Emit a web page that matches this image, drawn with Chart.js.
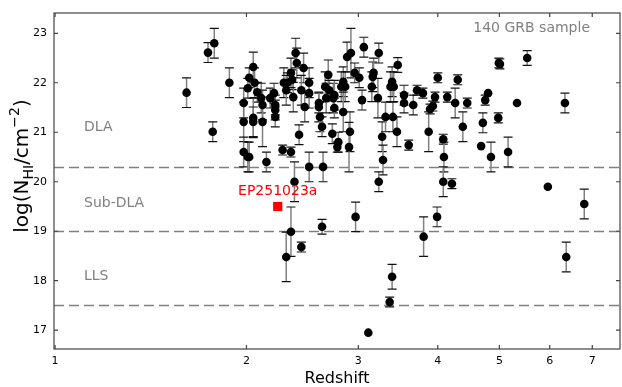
<!DOCTYPE html>
<html>
<head>
<meta charset="utf-8">
<script src="https://cdn.jsdelivr.net/npm/chart.js@4.4.1/dist/chart.umd.min.js"></script>
<style>
html, body { margin: 0; padding: 0; background: #fff; overflow: hidden; }
#wrap { width: 622px; height: 387px; position: relative; }
canvas { display: block; }
</style>
</head>
<body>
<div id="wrap"><canvas id="grb"></canvas></div>
<script>
// GRB host HI column densities vs redshift
const redshift = [
    1.61, 1.74, 1.78, 1.88, 1.77, 1.98, 1.98, 1.98, 2.01, 2.02,
    2.01, 2.02, 2.05, 2.06, 2.08, 2.11, 2.12, 2.05, 2.05, 2.12,
    2.15, 2.18, 2.21, 2.22, 2.22, 2.22, 2.28, 2.35, 2.29, 2.32,
    2.36, 2.31, 2.37, 2.35, 2.39, 2.40, 2.46, 2.51, 2.51, 2.44,
    2.47, 2.42, 2.38, 2.51, 2.35, 2.31, 2.44, 2.63, 2.60, 2.60,
    2.61, 2.63, 2.64, 2.66, 2.67, 2.69, 2.70, 2.74, 2.75, 2.75,
    2.73, 2.78, 2.79, 2.82, 2.84, 2.86, 2.84, 2.91, 2.90, 2.88,
    2.92, 2.96, 3.01, 3.06, 3.04, 2.97, 3.11, 3.15, 3.16, 3.17,
    3.22, 3.23, 3.27, 3.28, 3.23, 3.31, 3.37, 3.39, 3.41, 3.40,
    3.45, 3.46, 3.39, 3.36, 3.54, 3.54, 3.60, 3.66, 3.71, 3.79,
    3.80, 3.87, 3.89, 3.93, 3.96, 3.99, 4.00, 4.08, 4.09, 4.08,
    4.21, 4.14, 4.26, 4.30, 4.38, 4.45, 4.68, 4.71, 4.75, 4.80,
    4.85, 4.98, 4.99, 5.01, 5.16, 5.33, 5.53, 5.96, 6.34, 6.37, 6.80
]
const logNHI = [
    21.80, 22.61, 22.80, 22.00, 21.01, 21.59, 21.21, 20.60, 20.50, 20.50,
    21.89, 22.10, 22.32, 22.00, 21.81, 21.69, 21.55, 21.29, 21.21, 21.21,
    20.40, 21.69, 21.79, 21.55, 21.45, 21.31, 20.64, 20.60, 22.00, 22.00,
    22.06, 21.85, 21.71, 22.20, 22.60, 22.40, 22.30, 22.00, 21.79, 21.85,
    21.51, 20.95, 20.00, 20.30, 18.99, 18.48, 18.68, 19.09, 21.59, 21.51,
    21.31, 21.11, 20.30, 21.92, 21.69, 22.16, 21.85, 21.69, 21.75, 21.49,
    20.97, 20.70, 20.80, 21.92, 22.02, 21.92, 21.41, 21.01, 20.70, 22.52,
    22.60, 22.20, 22.10, 22.72, 21.65, 19.29, 16.95, 21.92, 22.12, 22.20,
    21.69, 22.60, 20.91, 20.44, 20.00, 21.31, 21.92, 22.02, 21.92, 21.31,
    21.01, 22.36, 18.08, 17.57, 21.75, 21.59, 20.74, 21.55, 21.85, 21.79,
    18.89, 21.01, 21.47, 21.53, 21.71, 19.29, 22.10, 20.86, 20.50, 20.00,
    19.96, 21.71, 21.59, 22.06, 21.11, 21.59, 20.72, 21.19, 21.65, 21.79,
    20.50, 21.29, 22.40, 22.38, 20.60, 21.59, 22.50, 19.90, 21.59, 18.48, 19.55
]
const logNHIErr = [
    0.3, 0.2, 0.3, 0.3, 0.2, 0.3, 0.4, 0.3, 0.3, 0.3,
    0.2, 0.2, 0.3, 0.3, 0.2, 0.3, 0.3, 0.4, 0.3, 0.5,
    0.2, 0.2, 0.2, 0.2, 0.2, 0.2, 0.1, 0.1, 0.3, 0.2,
    0.2, 0.3, 0.3, 0.3, 0.3, 0.3, 0.3, 0.3, 0.3, 0.3,
    0.3, 0.2, 0.4, 0.3, 0.5, 0.5, 0.1, 0.15, 0.2, 0.3,
    0.3, 0.2, 0.3, 0.3, 0.3, 0.3, 0.2, 0.3, 0.3, 0.2,
    0.2, 0.1, 0.2, 0.3, 0.3, 0.3, 0.4, 0.4, 0.5, 0.3,
    0.5, 0.2, 0.2, 0.2, 0.2, 0.3, 0, 0.3, 0.3, 0.3,
    0.4, 0.2, 0.3, 0.3, 0.2, 0.3, 0.3, 0.3, 0.3, 0.3,
    0.3, 0.15, 0.25, 0.1, 0.2, 0.2, 0.1, 0.2, 0.1, 0.1,
    0.4, 0.4, 0.1, 0.1, 0.1, 0.2, 0.1, 0.1, 0.3, 0.3,
    0.1, 0.1, 0.3, 0.1, 0.3, 0.1, 0, 0.2, 0.1, 0,
    0.3, 0.1, 0.1, 0.1, 0.3, 0, 0.15, 0, 0.2, 0.3, 0.3
]

const epName = 'EP251023a'
const epRedshift = [2.24]
const epLogNHI = [19.5]

const thresholds = [20.3, 19.0, 17.5]
const regionNames = ['DLA', 'Sub-DLA', 'LLS']
const xTicks = [1, 2, 3, 4, 5, 6, 7]
const yTicks = [17, 18, 19, 20, 21, 22, 23]
const sampleLabel = '140 GRB sample'

const FONT = '"DejaVu Sans", sans-serif'
const GREY = '#808080'

const decor = {
    id: 'decor',
    beforeDatasetsDraw(chart) {
        const {ctx, chartArea: a, scales: {x, y}} = chart
        ctx.save()
        // regime boundaries
        ctx.strokeStyle = GREY
        ctx.lineWidth = 1.5
        ctx.setLineDash([10, 5])
        thresholds.forEach(t => {
            const py = Math.round(y.getPixelForValue(t)) + 0.5
            ctx.beginPath()
            ctx.moveTo(a.left, py)
            ctx.lineTo(a.right, py)
            ctx.stroke()
        })
        ctx.setLineDash([])
        // error bars
        redshift.forEach((z, i) => {
            const e = logNHIErr[i]
            if (!e) return
            const px = x.getPixelForValue(z)
            const lo = y.getPixelForValue(logNHI[i] - e)
            const hi = y.getPixelForValue(logNHI[i] + e)
            ctx.strokeStyle = GREY
            ctx.lineWidth = 1.5
            ctx.beginPath()
            ctx.moveTo(px, lo)
            ctx.lineTo(px, hi)
            ctx.stroke()
            ctx.strokeStyle = '#111'
            ctx.lineWidth = 1.2
            ctx.beginPath()
            ctx.moveTo(px - 4.5, lo); ctx.lineTo(px + 4.5, lo)
            ctx.moveTo(px - 4.5, hi); ctx.lineTo(px + 4.5, hi)
            ctx.stroke()
        })
        ctx.restore()
    },
    afterDatasetsDraw(chart) {
        const {ctx, chartArea: a, scales: {x, y}} = chart
        ctx.save()
        // frame + inward ticks on all sides
        ctx.strokeStyle = '#444'
        ctx.lineWidth = 1.2
        ctx.strokeRect(a.left, a.top, a.right - a.left, a.bottom - a.top)
        ctx.beginPath()
        xTicks.forEach(v => {
            const px = x.getPixelForValue(v)
            ctx.moveTo(px, a.bottom); ctx.lineTo(px, a.bottom - 4)
            ctx.moveTo(px, a.top); ctx.lineTo(px, a.top + 4)
        })
        yTicks.forEach(v => {
            const py = y.getPixelForValue(v)
            ctx.moveTo(a.left, py); ctx.lineTo(a.left + 4, py)
            ctx.moveTo(a.right, py); ctx.lineTo(a.right - 4, py)
        })
        ctx.stroke()

        // annotations
        ctx.font = '14px ' + FONT
        ctx.fillStyle = GREY
        ctx.textBaseline = 'middle'
        ctx.textAlign = 'left'
        const regionY = [21.09, 19.57, 18.08]
        regionNames.forEach((n, i) => ctx.fillText(n, a.left + 30, y.getPixelForValue(regionY[i])))
        ctx.textAlign = 'right'
        ctx.fillText(sampleLabel, a.right - 30, y.getPixelForValue(23.1))
        ctx.fillStyle = '#ff0000'
        ctx.textAlign = 'center'
        ctx.fillText(epName, x.getPixelForValue(epRedshift[0]), y.getPixelForValue(epLogNHI[0]) - 15)

        // axis titles
        ctx.fillStyle = '#000'
        ctx.textAlign = 'center'
        ctx.textBaseline = 'alphabetic'
        ctx.font = '16px ' + FONT
        ctx.fillText('Redshift', (a.left + a.right) / 2, 383)
        drawYTitle(ctx, 28, 166)
        ctx.restore()
    }
}

// log(N_HI / cm^-2) with sub/superscripts, rotated
function drawYTitle(ctx, cx, cy)
{
    const big = '20px ' + FONT, small = '14px ' + FONT
    const parts = [
        ['log(N', big, 0], ['HI', small, 5], ['/cm', big, 0], ['\u22122', small, -9], [')', big, 0]
    ]
    ctx.save()
    ctx.translate(cx, cy)
    ctx.rotate(-Math.PI / 2)
    ctx.textAlign = 'left'
    let w = 0
    parts.forEach(p => { ctx.font = p[1]; w += ctx.measureText(p[0]).width })
    let px = -w / 2
    parts.forEach(p => {
        ctx.font = p[1]
        ctx.fillText(p[0], px, p[2])
        px += ctx.measureText(p[0]).width
    })
    ctx.restore()
}

new Chart(document.getElementById('grb'), {
    type: 'scatter',
    data: {
        datasets: [
            {
                data: redshift.map((z, i) => ({x: z, y: logNHI[i]})),
                backgroundColor: '#000',
                borderColor: '#000',
                pointRadius: 4.3,
                borderWidth: 0
            },
            {
                data: epRedshift.map((z, i) => ({x: z, y: epLogNHI[i]})),
                backgroundColor: '#ff0000',
                borderColor: '#ff0000',
                pointStyle: 'rect',
                pointRadius: 6.5,
                borderWidth: 0
            }
        ]
    },
    options: {
        responsive: true,
        maintainAspectRatio: false,
        animation: false,
        layout: { autoPadding: false, padding: { top: 13, right: 2, left: 0, bottom: 0 } },
        plugins: {
            legend: { display: false },
            tooltip: { enabled: false }
        },
        scales: {
            x: {
                type: 'logarithmic',
                min: 0.996,
                max: 7.74,
                grid: { display: false, drawTicks: false },
                border: { display: false },
                afterBuildTicks: s => { s.ticks = xTicks.map(v => ({value: v})) },
                afterFit: s => { s.height = 38; s.paddingLeft = 0; s.paddingRight = 0 },
                ticks: {
                    padding: 6,
                    autoSkip: false,
                    maxRotation: 0,
                    color: '#000',
                    font: { family: FONT, size: 11 },
                    callback: v => String(v)
                }
            },
            y: {
                min: 16.62,
                max: 23.41,
                grid: { display: false, drawTicks: false },
                border: { display: false },
                afterBuildTicks: s => { s.ticks = yTicks.map(v => ({value: v})) },
                afterFit: s => { s.width = 54; s.paddingTop = 0; s.paddingBottom = 0 },
                ticks: {
                    padding: 7,
                    color: '#000',
                    font: { family: FONT, size: 11 },
                    callback: v => String(v)
                }
            }
        }
    },
    plugins: [decor]
})
</script>
</body>
</html>
